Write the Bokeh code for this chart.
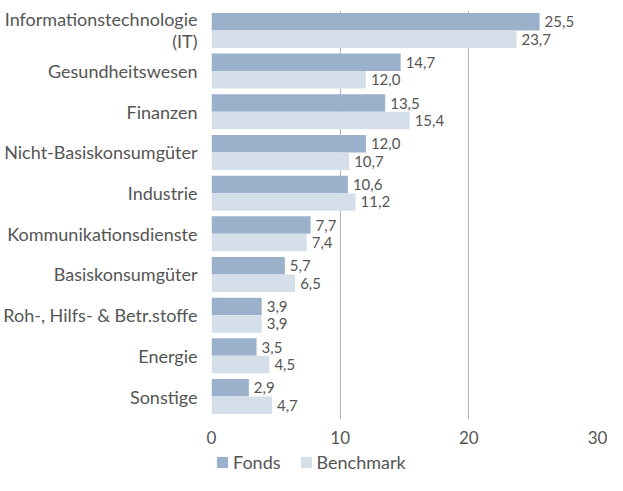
from bokeh.plotting import figure
from bokeh.layouts import column
from bokeh.models import ColumnDataSource, Range1d, FixedTicker, Legend, LegendItem
from bokeh.embed import file_html
from bokeh.resources import INLINE
from bokeh.core.properties import value

categories = ["Informationstechnologie\n(IT)", "Gesundheitswesen", "Finanzen",
              "Nicht-Basiskonsumgüter", "Industrie", "Kommunikationsdienste",
              "Basiskonsumgüter", "Roh-, Hilfs- & Betr.stoffe", "Energie", "Sonstige"]
fonds = [25.5, 14.7, 13.5, 12.0, 10.6, 7.7, 5.7, 3.9, 3.5, 2.9]
benchmark = [23.7, 12.0, 15.4, 10.7, 11.2, 7.4, 6.5, 3.9, 4.5, 4.7]
series_names = ["Fonds", "Benchmark"]
x_ticks = [0, 10, 20, 30]

FONT = "Lato"
TXT = "#555555"
C_FONDS = "#9bb1cb"
C_BENCH = "#d5dfea"
BAR_H = 0.43
LINE_OFF = 0.27

pos = list(range(len(categories)))
fmt = lambda v: f"{v:.1f}".replace(".", ",")

src_f = ColumnDataSource(dict(y=[i - BAR_H / 2 for i in pos], v=fonds, lab=[fmt(v) for v in fonds]))
src_b = ColumnDataSource(dict(y=[i + BAR_H / 2 for i in pos], v=benchmark, lab=[fmt(v) for v in benchmark]))

p = figure(width=607, height=449, x_range=Range1d(0, 30), y_range=Range1d(9.565, -0.49),
           output_backend="svg", toolbar_location=None,
           min_border_left=208, min_border_right=10, min_border_top=10, min_border_bottom=30)
p.outline_line_color = None
p.background_fill_color = "white"

p.hbar(y="y", left=0, right="v", height=BAR_H, source=src_f, fill_color=C_FONDS, line_color=None)
p.hbar(y="y", left=0, right="v", height=BAR_H, source=src_b, fill_color=C_BENCH, line_color=None)

for src in (src_f, src_b):
    p.text(x="v", y="y", text="lab", source=src, x_offset=5, text_align="left", text_baseline="middle",
           text_font=value(FONT), text_font_size="15px", text_color=TXT)

# category labels (multi-line labels split into right-aligned lines)
ticks, overrides = [], {}
for i, c in zip(pos, categories):
    lines = c.split("\n")
    n = len(lines)
    for k, line in enumerate(lines):
        t = i + (k - (n - 1) / 2) * 2 * LINE_OFF
        ticks.append(t)
        overrides[t] = line

p.yaxis.ticker = FixedTicker(ticks=ticks, minor_ticks=[])
p.yaxis.major_label_overrides = overrides
p.xaxis.ticker = FixedTicker(ticks=x_ticks, minor_ticks=[])
for ax in (p.xaxis, p.yaxis):
    ax.axis_line_color = None
    ax.major_tick_line_color = None
    ax.minor_tick_line_color = None
    ax.major_label_text_font = FONT
    ax.major_label_text_color = TXT
p.yaxis.major_label_text_font_size = "18px"
p.yaxis.major_label_standoff = 8
p.xaxis.major_label_text_font_size = "17px"
p.xaxis.major_label_standoff = 5

p.ygrid.visible = False
p.xgrid.ticker = FixedTicker(ticks=x_ticks)
p.xgrid.grid_line_color = "#b3b3b3"
p.xgrid.grid_line_width = 1

# legend strip below the chart (its bar renderers sit outside the visible range)
lg = figure(width=607, height=26, x_range=Range1d(0, 1), y_range=Range1d(0, 1),
            x_axis_type=None, y_axis_type=None, output_backend="svg", toolbar_location=None,
            min_border=0)
lg.outline_line_color = None
lg.grid.visible = False
hidden = dict(y=[-10], v=[1])
lr_f = lg.hbar(y="y", left=0, right="v", height=0.5, source=ColumnDataSource(hidden),
               fill_color=C_FONDS, line_color=None)
lr_b = lg.hbar(y="y", left=0, right="v", height=0.5, source=ColumnDataSource(hidden),
               fill_color=C_BENCH, line_color=None)
legend = Legend(items=[LegendItem(label=series_names[0], renderers=[lr_f]),
                       LegendItem(label=series_names[1], renderers=[lr_b])],
                orientation="horizontal", location=(4, 2),
                glyph_width=14, glyph_height=14, label_standoff=4, spacing=18,
                label_text_font=FONT, label_text_font_size="18px", label_text_color=TXT,
                border_line_color=None, background_fill_alpha=0, margin=0, padding=0)
lg.add_layout(legend)

layout = column(p, lg, spacing=0)
open("out.html", "w").write(file_html(layout, INLINE))
